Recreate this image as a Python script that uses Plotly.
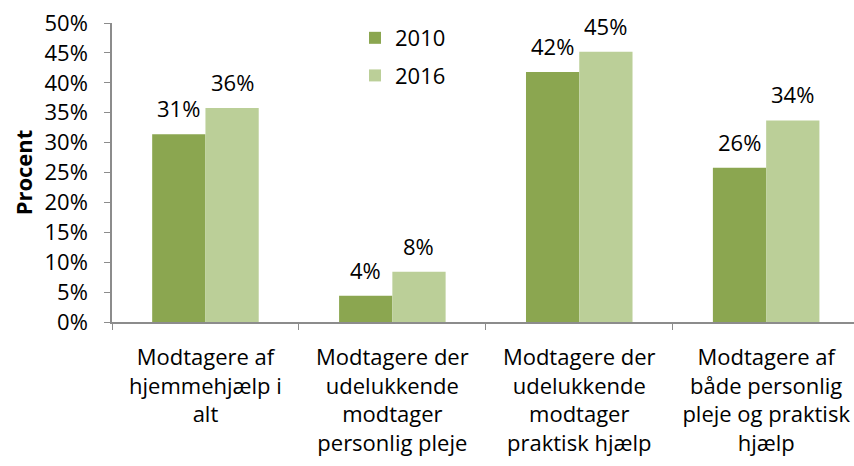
import plotly.graph_objects as go

categories = [
    "Modtagere af<br>hjemmehjælp i<br>alt",
    "Modtagere der<br>udelukkende<br>modtager<br>personlig pleje",
    "Modtagere der<br>udelukkende<br>modtager<br>praktisk hjælp",
    "Modtagere af<br>både personlig<br>pleje og praktisk<br>hjælp",
]
series_names = ["2010", "2016"]
values_2010 = [31.4, 4.4, 41.8, 25.8]
values_2016 = [35.8, 8.4, 45.2, 33.7]
y_ticks = [0, 5, 10, 15, 20, 25, 30, 35, 40, 45, 50]

colors = ["#8BA650", "#BBCF98"]
FONT = "Open Sans"
FS = 22

fig = go.Figure()
for name, vals, col in zip(series_names, [values_2010, values_2016], colors):
    fig.add_trace(go.Bar(
        x=categories, y=vals, name=name, legendgroup=name,
        marker=dict(color=col, line=dict(width=0)),
        hoverinfo="skip",
    ))

# data labels above bars, anchored on data values through the axes
bar_offset_px = 26.6
for sign, vals in zip([-1, 1], [values_2010, values_2016]):
    for cat, v in zip(categories, vals):
        fig.add_annotation(
            x=cat, y=v, xref="x", yref="y", text=f"{round(v):.0f}%",
            showarrow=False, xshift=sign * bar_offset_px, yshift=9,
            yanchor="bottom", xanchor="center",
            font=dict(family=FONT, size=FS, color="#000000"),
        )

fig.update_layout(
    width=854, height=466,
    margin=dict(l=112, r=0, t=23, b=144, autoexpand=False),
    paper_bgcolor="white", plot_bgcolor="white",
    barmode="group", bargap=0.43, bargroupgap=0,
    font=dict(family=FONT, size=FS, color="#000000"),
    showlegend=True,
    legend=dict(x=0.3275, y=1.02, xanchor="left", yanchor="top",
                traceorder="grouped", tracegroupgap=6,
                font=dict(family=FONT, size=FS),
                itemwidth=30, bgcolor="rgba(0,0,0,0)"),
    xaxis=dict(
        type="category", range=[-0.5, 3.47], automargin=False,
        showline=True, linecolor="#8C8C8C", linewidth=1.5,
        ticks="outside", tickson="boundaries", ticklen=6, tickcolor="#8C8C8C",
        tickfont=dict(family=FONT, size=FS), showgrid=False,
        ticklabelstandoff=15, ticklabeloverflow="allow",
    ),
    yaxis=dict(
        range=[0, 50], tickvals=y_ticks, ticktext=[f"{t}%" for t in y_ticks],
        automargin=False,
        showline=True, linecolor="#8C8C8C", linewidth=1.5,
        ticks="outside", ticklen=6, tickcolor="#8C8C8C",
        tickfont=dict(family=FONT, size=FS), showgrid=False, zeroline=False,
        ticklabelstandoff=12, ticklabeloverflow="allow",
        title=dict(text="<b>Procent</b>", font=dict(family=FONT, size=22), standoff=6),
    ),
)

# remove the browser's default 8px body margin so the figure sits at the window origin
fig.write_html(
    "out.html",
    config={"displayModeBar": False},
    post_script="document.body.style.margin='0';document.body.style.overflow='hidden';",
)
